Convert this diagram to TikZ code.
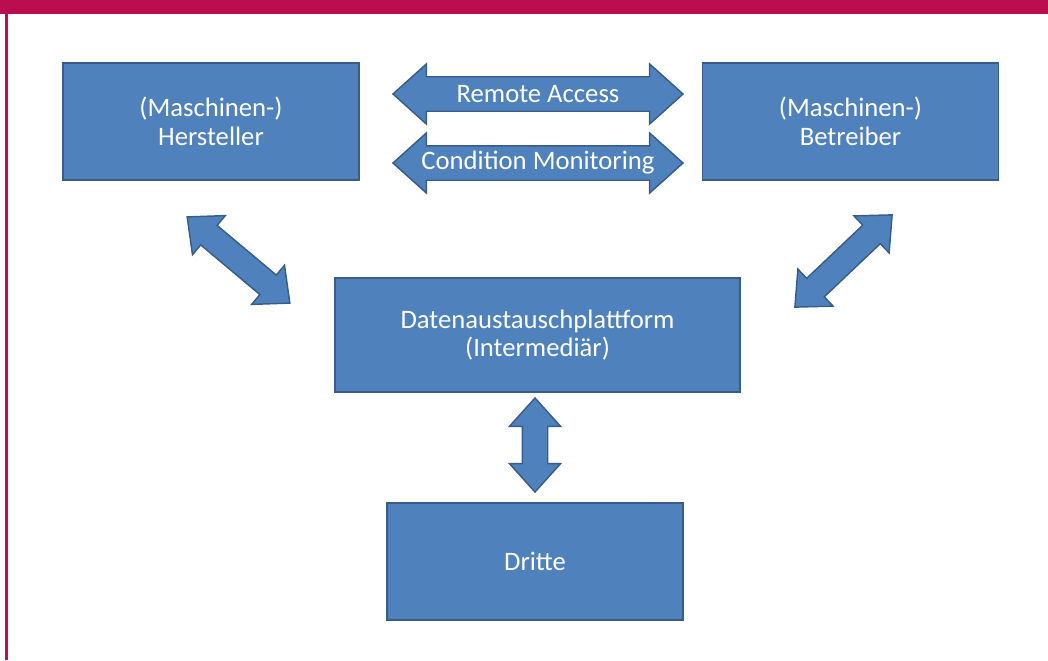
\documentclass[tikz,border=0pt]{standalone}
\usepackage{fontspec}
\setmainfont{Carlito}
\usetikzlibrary{shapes.arrows}

\definecolor{boxfill}{RGB}{79,129,189}
\definecolor{boxedge}{RGB}{56,93,138}
\definecolor{topband}{RGB}{186,14,80}

\tikzset{
    party/.style={
        rectangle,
        draw=boxedge,
        fill=boxfill,
        line width=1.4pt,
        text=white,
        align=center,
        inner sep=0pt
    },
    blockarrow/.style={
        double arrow,
        draw=boxedge,
        fill=boxfill,
        line width=1.1pt,
        inner sep=0pt,
        minimum width=0pt,
        text height=#1,
        text depth=0pt,
        double arrow head extend=9.6pt,
        double arrow tip angle=84
    }
}

\begin{document}
\begin{tikzpicture}[
            x=0.75pt, y=-0.75pt,
            font=\fontsize{20}{21.5}\selectfont
        ]

            \useasboundingbox (0,0) rectangle (1048,660);
            \fill[topband] (0,0) rectangle (1048,14);
            \fill[topband] (5,14) rectangle (7.5,660);

            \node[party, minimum width=222pt, minimum height=87.75pt]
                (hersteller) at (211, 121.5) {(Maschinen-)\\Hersteller};
            \node[party, minimum width=222pt, minimum height=87.75pt]
                (betreiber) at (850.5, 121.5) {(Maschinen-)\\Betreiber};
            \node[party, minimum width=303.75pt, minimum height=85.5pt]
                (plattform) at (537.5, 335) {Datenaustauschplattform\\(Intermediär)};
            \node[party, minimum width=222pt, minimum height=87.75pt]
                (dritte) at (535, 561.5) {Dritte};

            \node[blockarrow=24.75pt, minimum height=217.5pt,
                label={[text=white]center:Remote Access}]
                (remote) at (538, 94) {};
            \node[blockarrow=24.75pt, minimum height=217.5pt,
                label={[text=white]center:Condition Monitoring}]
                (monitoring) at (538, 163) {};

            \node[blockarrow=18pt, minimum height=100.5pt, rotate=-40]
                (hpfeil) at (238.5, 260) {};
            \node[blockarrow=18pt, minimum height=100.5pt, rotate=43.5]
                (bpfeil) at (843.5, 261) {};
            \node[blockarrow=18pt, minimum height=70.5pt, rotate=90]
                (dpfeil) at (535, 445) {};

        \end{tikzpicture}
\end{document}
